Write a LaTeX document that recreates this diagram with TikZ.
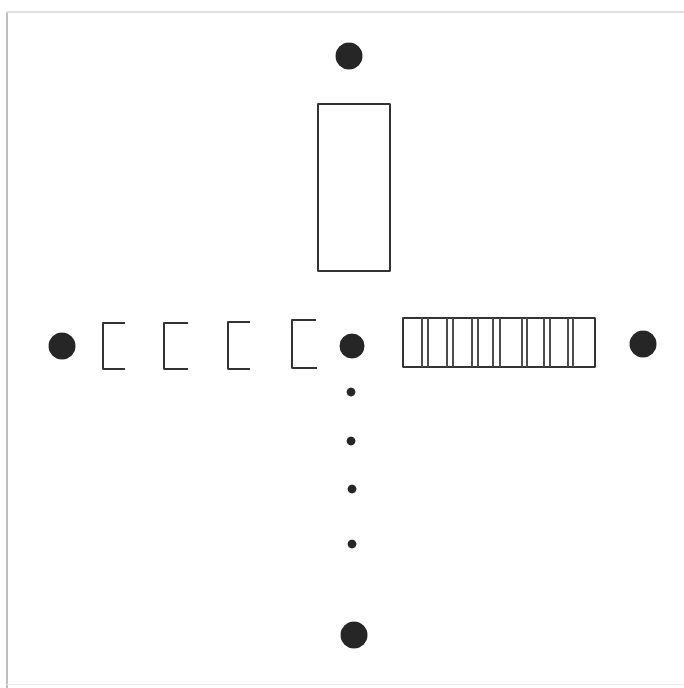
\documentclass[tikz,border=0pt]{standalone}
\begin{document}
\begin{tikzpicture}[x=1pt,y=-1pt,
  ink/.style={draw=black!80,line width=1.8pt,line join=round},
  thin ink/.style={draw=black!70,line width=1.1pt},
  bigdot/.style={circle,fill=black!85,inner sep=0pt,minimum size=27pt},
  smalldot/.style={circle,fill=black!85,inner sep=0pt,minimum size=9pt},
  frame/.style={draw=black!25,line width=1.5pt}]
\useasboundingbox (0,0) rectangle (684,688);
\fill[white] (0,0) rectangle (684,688);
% frame
\draw[frame] (7,688) -- (7,12);
\draw[draw=black!12,line width=1.5pt] (7,12) -- (684,12);
\draw[draw=black!8,line width=1pt] (7,684) -- (684,684);
% big dots
\node[bigdot] (top) at (349,56) {};
\node[bigdot] (left) at (62,346) {};
\node[bigdot,minimum size=25pt] (center) at (352,346) {};
\node[bigdot] (right) at (643,344) {};
\node[bigdot] (bottom) at (354,635) {};
% small dots
\node[smalldot] (s1) at (351,392) {};
\node[smalldot] (s2) at (351,441) {};
\node[smalldot] (s3) at (352,489) {};
\node[smalldot] (s4) at (352,544) {};
% tall rectangle
\node[ink,rectangle,minimum width=72pt,minimum height=167pt,inner sep=0pt] (tall) at (354,187.5) {};
% brackets
\draw[ink] (125,323) -- (103,323) -- (103,369) -- (125,369);
\draw[ink] (188,323) -- (164,323) -- (164,369) -- (188,369);
\draw[ink] (250,322) -- (228,322) -- (228,369) -- (250,369);
\draw[ink] (316,320) -- (292,320) -- (292,368) -- (317,368);
% hatched rectangle
\draw[ink] (403,318) rectangle (595,367);
\foreach \xx in {422,428,447,453,472,478,493,500,522,527,544,550,568,573}
  \draw[thin ink] (\xx,318) -- (\xx,367);
\end{tikzpicture}
\end{document}
